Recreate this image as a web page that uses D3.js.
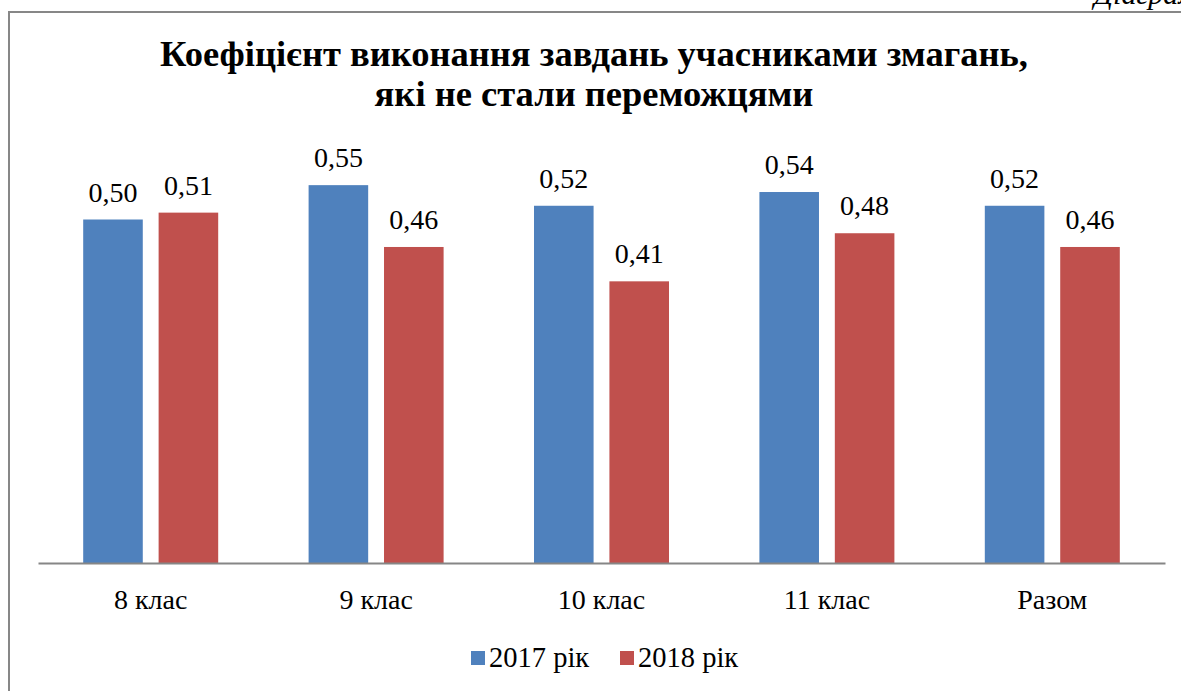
<!DOCTYPE html>
<html>
<head>
<meta charset="utf-8">
<script src="https://cdn.jsdelivr.net/npm/d3@7"></script>
<style>
  body { margin: 0; background: #fff; }
  svg { display: block; }
</style>
</head>
<body>
<div id="chart"></div>
<script>
const categories = ['8 клас', '9 клас', '10 клас', '11 клас', 'Разом'];
const seriesNames = ['2017 рік', '2018 рік'];
const values2017 = [0.50, 0.55, 0.52, 0.54, 0.52];
const values2018 = [0.51, 0.46, 0.41, 0.48, 0.46];
const titleLines = ['Коефіцієнт виконання завдань учасниками змагань,', 'які не стали переможцями'];
const colors = ['#4F81BD', '#C0504D'];

const width = 1181;
const height = 691;
const font = 'Liberation Serif';
// область графіка
const plot = { left: 38, right: 1165, top: 13, bottom: 563 };

const svg = d3.select('#chart')
    .append('svg')
    .attr('width', width)
    .attr('height', height)
    .attr('font-family', font);

// рамка діаграми
svg.append('rect')
    .attr('x', 9).attr('y', 12)
    .attr('width', 1200).attr('height', 700)
    .attr('fill', 'none')
    .attr('stroke', '#878787')
    .attr('stroke-width', 2);

svg.append('text')
    .attr('x', 1094).attr('y', 4)
    .attr('font-size', 30)
    .attr('font-style', 'italic')
    .text('Діаграма');

svg.selectAll('.title')
    .data(titleLines)
    .enter()
    .append('text')
    .attr('class', 'title')
    .attr('x', 594)
    .attr('y', function(d, i) { return 66 + i * 40; })
    .attr('text-anchor', 'middle')
    .attr('font-size', 36.5)
    .attr('font-weight', 'bold')
    .text(function(d) { return d; });

const xScale = d3.scaleBand().domain(categories).range([plot.left, plot.right]);
const xInner = d3.scaleBand()
    .domain(seriesNames)
    .range([xScale.bandwidth() / 2 - 67.5, xScale.bandwidth() / 2 + 67.5])
    .paddingInner(0.21);
const yScale = d3.scaleLinear()
    .domain([0, 0.8])
    .range([plot.bottom, plot.bottom - 0.8 * 687]);

const data = categories.map(function(c, i) {
    return { cat: c, vals: [values2017[i], values2018[i]] };
});

const groups = svg.append('g')
    .selectAll('g')
    .data(data)
    .enter()
    .append('g')
    .attr('transform', function(d) { return 'translate(' + xScale(d.cat) + ',0)'; });

groups.selectAll('rect')
    .data(function(d) { return d.vals.map(function(v, j) { return { name: seriesNames[j], v: v, j: j }; }); })
    .enter()
    .append('rect')
    .attr('x', function(d) { return xInner(d.name); })
    .attr('y', function(d) { return yScale(d.v); })
    .attr('width', xInner.bandwidth())
    .attr('height', function(d) { return plot.bottom - yScale(d.v); })
    .attr('fill', function(d) { return colors[d.j]; });

groups.selectAll('.val')
    .data(function(d) { return d.vals.map(function(v, j) { return { name: seriesNames[j], v: v }; }); })
    .enter()
    .append('text')
    .attr('class', 'val')
    .attr('x', function(d) { return xInner(d.name) + xInner.bandwidth() / 2; })
    .attr('y', function(d) { return yScale(d.v) - 18; })
    .attr('text-anchor', 'middle')
    .attr('font-size', 28)
    .text(function(d) { return d3.format('.2f')(d.v).replace('.', ','); });

const axisG = svg.append('g')
    .attr('transform', 'translate(0,' + plot.bottom + ')')
    .call(d3.axisBottom(xScale).tickSize(0).tickPadding(26));
axisG.attr('font-family', font);
axisG.select('.domain').attr('stroke', '#868686').attr('stroke-width', 2);
axisG.selectAll('text')
    .attr('font-size', 28)
    .attr('fill', '#000');

// легенда
const legend = svg.append('g')
    .selectAll('g')
    .data(seriesNames)
    .enter()
    .append('g')
    .attr('transform', function(d, i) { return 'translate(' + (471 + i * 149) + ',651)'; });

legend.append('rect')
    .attr('width', 14).attr('height', 14)
    .attr('fill', function(d, i) { return colors[i]; });

legend.append('text')
    .attr('x', 18).attr('y', 16)
    .attr('font-size', 28.5)
    .text(function(d) { return d; });
</script>
</body>
</html>
